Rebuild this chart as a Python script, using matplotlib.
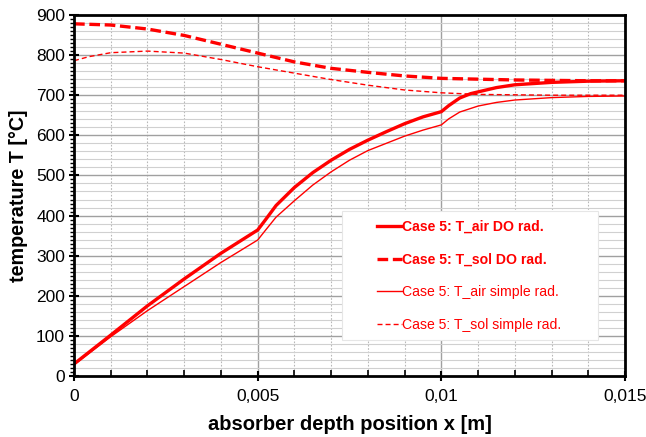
import numpy as np
import matplotlib
matplotlib.use("Agg")
import matplotlib.pyplot as plt
from matplotlib.ticker import MultipleLocator, FuncFormatter
from matplotlib.patches import Rectangle

plt.rcParams['font.family'] = ['Liberation Sans', 'DejaVu Sans']

# absorber depth positions [m] and temperatures [°C]
x_air_do = [0, 0.001, 0.002, 0.003, 0.004, 0.005, 0.0052, 0.0055, 0.006,
            0.0065, 0.007, 0.0075, 0.008, 0.0085, 0.009, 0.0095, 0.01,
            0.0102, 0.0105, 0.0108, 0.0115, 0.012, 0.013, 0.014, 0.015]
t_air_do = [30, 102, 175, 242, 306, 364, 388, 425, 470,
            507, 538, 565, 588, 609, 629, 646, 659,
            674, 693, 704, 719, 726, 732, 735, 736]

x_air_simple = [0, 0.001, 0.002, 0.003, 0.004, 0.005, 0.0052, 0.0055, 0.006,
                0.0065, 0.007, 0.0075, 0.008, 0.0085, 0.009, 0.0095, 0.01,
                0.0102, 0.0105, 0.011, 0.0115, 0.012, 0.013, 0.014, 0.015]
t_air_simple = [28, 98, 163, 223, 283, 339, 362, 396, 437,
                476, 509, 538, 562, 580, 598, 613, 626,
                641, 658, 673, 682, 688, 694, 697, 698]

x_sol_do = [0, 0.001, 0.002, 0.003, 0.004, 0.005, 0.006, 0.007, 0.008,
            0.009, 0.01, 0.011, 0.012, 0.013, 0.014, 0.015]
t_sol_do = [878, 875, 865, 849, 827, 805, 783, 767, 757,
            748, 742, 740, 738, 737, 736, 736]

x_sol_simple = [0, 0.0004, 0.001, 0.002, 0.003, 0.004, 0.005, 0.006, 0.007, 0.008,
                0.009, 0.01, 0.011, 0.012, 0.013, 0.014, 0.015]
t_sol_simple = [786, 796, 806, 810, 805, 789, 771, 755, 739, 725,
                713, 706, 702, 701, 700, 700, 700]

labels = ["Case 5: T_air DO rad.", "Case 5: T_sol DO rad.",
          "Case 5: T_air simple rad.", "Case 5: T_sol simple rad."]

red = "#ff0000"

fig = plt.figure(figsize=(6.46, 4.37), dpi=100)
ax = fig.add_axes([0.1146, 0.1396, 0.8529, 0.8261])

ax.set_xlim(0, 0.015)
ax.set_ylim(0, 900)

# grid: major solid, minor lighter
for xv in np.arange(0.001, 0.015, 0.001):
    if abs(xv / 0.005 - round(xv / 0.005)) < 1e-6:
        ax.axvline(xv, color="#a0a0a0", lw=1.0, zorder=0)
    else:
        ax.axvline(xv, color="#b8b8b8", lw=0.8, ls=(0, (1.5, 1.5)), zorder=0)
for yv in np.arange(20, 900, 20):
    if yv % 100 == 0:
        ax.axhline(yv, color="#a0a0a0", lw=1.0, zorder=0)
    else:
        ax.axhline(yv, color="#d0d0d0", lw=0.8, zorder=0)

l1, = ax.plot(x_air_do, t_air_do, color=red, lw=2.4, solid_joinstyle="round")
l2, = ax.plot(x_sol_do, t_sol_do, color=red, lw=2.4, ls=(0, (3.2, 1.4)))
l3, = ax.plot(x_air_simple, t_air_simple, color=red, lw=1.0, solid_joinstyle="round")
l4, = ax.plot(x_sol_simple, t_sol_simple, color=red, lw=1.0, ls=(0, (3.6, 2.2)))

ax.xaxis.set_major_locator(MultipleLocator(0.005))
ax.xaxis.set_minor_locator(MultipleLocator(0.001))
ax.yaxis.set_major_locator(MultipleLocator(100))
ax.yaxis.set_minor_locator(MultipleLocator(10))

def comma_fmt(v, pos):
    if abs(v) < 1e-12:
        return "0"
    return ("%g" % v).replace(".", ",")

ax.xaxis.set_major_formatter(FuncFormatter(comma_fmt))

ax.tick_params(axis="both", which="major", labelsize=12.5, direction="inout",
               length=7, width=1.5, colors="black")
ax.tick_params(axis="x", which="minor", direction="in", length=4, width=1.2)
ax.tick_params(axis="y", which="minor", direction="out", length=3, width=1.0)
ax.tick_params(axis="y", which="major", pad=3)
ax.tick_params(axis="x", which="major", pad=6)

for s in ax.spines.values():
    s.set_linewidth(2.0)
    s.set_color("black")

ax.set_xlabel("absorber depth position x [m]", fontsize=14.5, fontweight="bold", labelpad=8)
ax.set_ylabel("temperature T [°C]", fontsize=14.2, fontweight="bold", labelpad=6)

# legend panel
ax.add_patch(Rectangle((0.4864, 0.0997), 0.4646, 0.3573, transform=ax.transAxes,
                       facecolor="white", edgecolor="#e6e6e6", lw=0.8, zorder=4))
leg = ax.legend([l1, l2, l3, l4], labels, loc="upper left",
                bbox_to_anchor=(0.55, 0.432), fontsize=10.1, frameon=False,
                borderpad=0.0, borderaxespad=0.0,
                handlelength=1.75, handletextpad=0.05, labelspacing=1.32)
leg.set_zorder(5)
for i, t in enumerate(leg.get_texts()):
    t.set_color(red)
    if i < 2:
        t.set_fontweight("bold")

fig.savefig("out.png", dpi=100)
